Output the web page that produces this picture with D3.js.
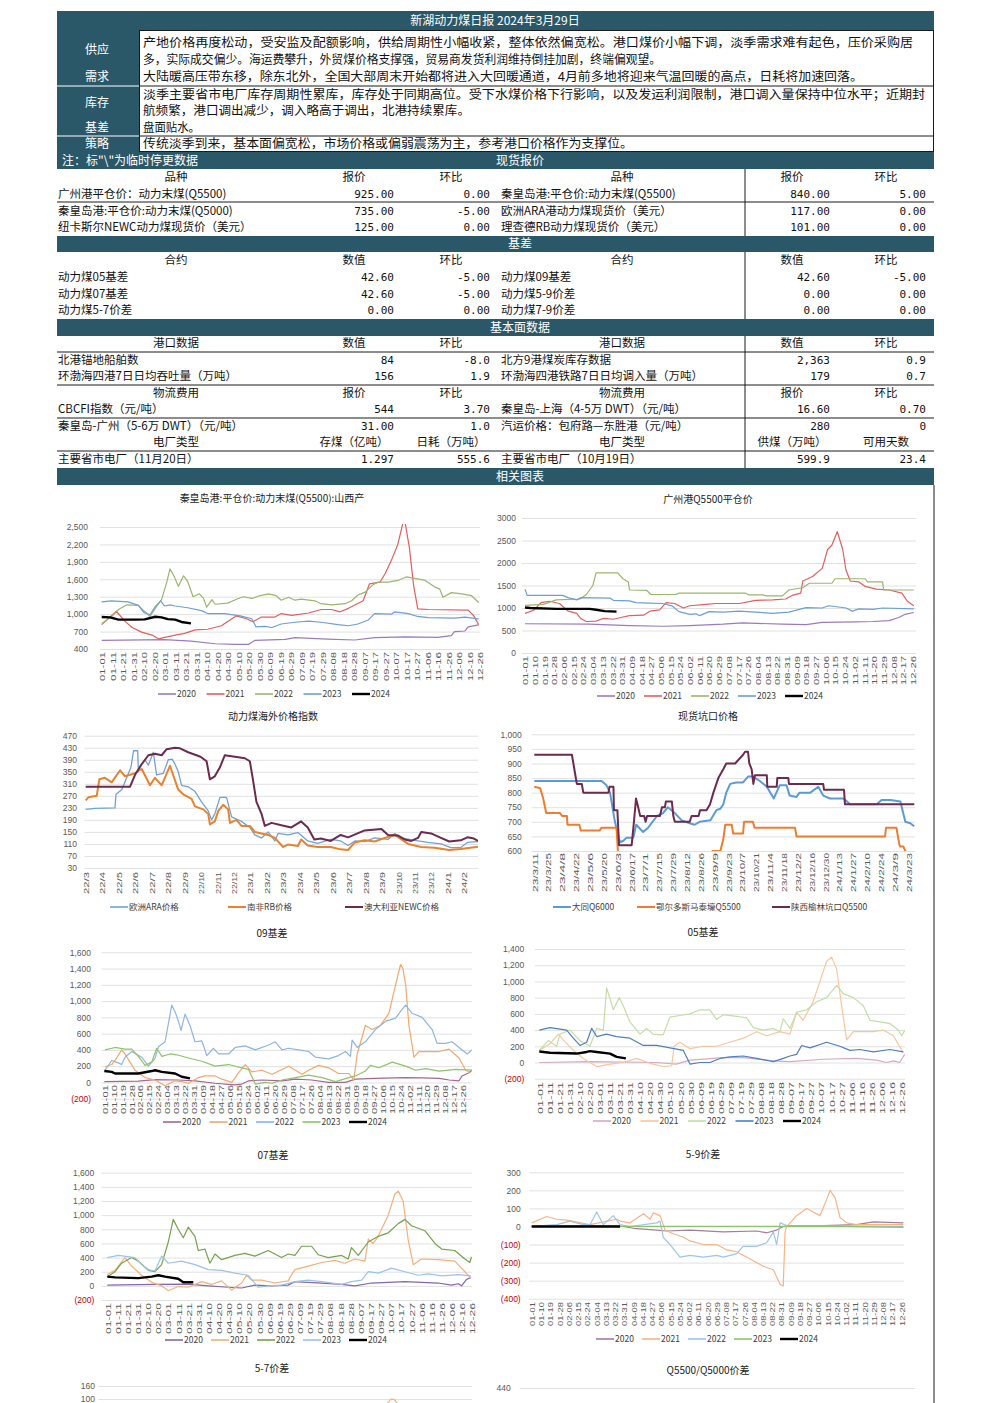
<!DOCTYPE html>
<html>
<head>
<meta charset="utf-8">
<script src="https://cdn.jsdelivr.net/npm/d3@7"></script>
<style>
  body { margin: 0; background: #fff; overflow: hidden; }
  svg { display: block; font-family: "Noto Sans CJK SC", "Noto Sans", sans-serif; }
</style>
</head>
<body>
<script>
// ---------------- report text ----------------
var reportTitle = "新湖动力煤日报 2024年3月29日";
var sectionNames = ["供应", "需求", "库存", "基差", "策略"];
var commentary = [
  "产地价格再度松动，受安监及配额影响，供给周期性小幅收紧，整体依然偏宽松。港口煤价小幅下调，淡季需求难有起色，压价采购居",
  "多，实际成交偏少。海运费攀升，外贸煤价格支撑强，贸易商发货利润维持倒挂加剧，终端偏观望。",
  "大陆暖高压带东移，除东北外，全国大部周末开始都将进入大回暖通道，4月前多地将迎来气温回暖的高点，日耗将加速回落。",
  "淡季主要省市电厂库存周期性累库，库存处于同期高位。受下水煤价格下行影响，以及发运利润限制，港口调入量保持中位水平；近期封",
  "航频繁，港口调出减少，调入略高于调出，北港持续累库。",
  "盘面贴水。",
  "传统淡季到来，基本面偏宽松，市场价格或偏弱震荡为主，参考港口价格作为支撑位。"
];
var noteText = "注：标\"\\\"为临时停更数据";

// ---------------- tables ----------------
var spotHeader = ["品种", "报价", "环比", "品种", "报价", "环比"];
var spotRows = [
  ["广州港平仓价：动力末煤(Q5500)", "925.00", "0.00", "秦皇岛港:平仓价:动力末煤(Q5500)", "840.00", "5.00"],
  ["秦皇岛港:平仓价:动力末煤(Q5000)", "735.00", "-5.00", "欧洲ARA港动力煤现货价（美元）", "117.00", "0.00"],
  ["纽卡斯尔NEWC动力煤现货价（美元）", "125.00", "0.00", "理查德RB动力煤现货价（美元）", "101.00", "0.00"]
];
var basisHeader = ["合约", "数值", "环比", "合约", "数值", "环比"];
var basisRows = [
  ["动力煤05基差", "42.60", "-5.00", "动力煤09基差", "42.60", "-5.00"],
  ["动力煤07基差", "42.60", "-5.00", "动力煤5-9价差", "0.00", "0.00"],
  ["动力煤5-7价差", "0.00", "0.00", "动力煤7-9价差", "0.00", "0.00"]
];
var portHeader = ["港口数据", "数值", "环比", "港口数据", "数值", "环比"];
var portRows = [
  ["北港锚地船舶数", "84", "-8.0", "北方9港煤炭库存数据", "2,363", "0.9"],
  ["环渤海四港7日日均吞吐量（万吨）", "156", "1.9", "环渤海四港铁路7日日均调入量（万吨）", "179", "0.7"]
];
var freightHeader = ["物流费用", "报价", "环比", "物流费用", "报价", "环比"];
var freightRows = [
  ["CBCFI指数（元/吨）", "544", "3.70", "秦皇岛-上海（4-5万 DWT）（元/吨）", "16.60", "0.70"],
  ["秦皇岛-广州（5-6万 DWT）（元/吨）", "31.00", "1.0", "汽运价格：包府路—东胜港（元/吨）", "280", "0"]
];
var plantHeader = ["电厂类型", "存煤（亿吨）", "日耗（万吨）", "电厂类型", "供煤（万吨）", "可用天数"];
var plantRows = [
  ["主要省市电厂（11月20日）", "1.297", "555.6", "主要省市电厂（10月19日）", "599.9", "23.4"]
];

// ---------------- chart tick labels ----------------
var years = ["2020", "2021", "2022", "2023", "2024"];
var ticks10 = ["01-01","01-11","01-21","01-31","02-10","02-20","03-01","03-11","03-21","03-31","04-10","04-20","04-30","05-10","05-20","05-30","06-09","06-19","06-29","07-09","07-19","07-29","08-08","08-18","08-28","09-07","09-17","09-27","10-07","10-17","10-27","11-06","11-16","11-26","12-06","12-16","12-26"];
var ticks9 = ["01-01","01-10","01-19","01-28","02-06","02-15","02-24","03-04","03-13","03-22","03-31","04-09","04-18","04-27","05-06","05-15","05-24","06-02","06-11","06-20","06-29","07-08","07-17","07-26","08-04","08-13","08-22","08-31","09-09","09-18","09-27","10-06","10-15","10-24","11-02","11-11","11-20","11-29","12-08","12-17","12-26"];
var monthTicks = ["22/3","22/4","22/5","22/6","22/7","22/8","22/9","22/10","22/11","22/12","23/1","23/2","23/3","23/4","23/5","23/6","23/7","23/8","23/9","23/10","23/11","23/12","24/1","24/2"];
var pitTicks = ["23/3/11","23/3/25","23/4/8","23/4/22","23/5/6","23/5/20","23/6/3","23/6/17","23/7/1","23/7/15","23/7/29","23/8/12","23/8/26","23/9/9","23/9/23","23/10/7","23/10/21","23/11/4","23/11/18","23/12/2","23/12/16","23/12/30","24/1/13","24/1/27","24/2/10","24/2/24","24/3/9","24/3/23"];
var overseasNames = ["欧洲ARA价格", "南非RB价格", "澳大利亚NEWC价格"];
var pitNames = ["大同Q6000", "鄂尔多斯马泰壕Q5500", "陕西榆林坑口Q5500"];

// ---------------- series: [day of year, value] ----------------
// 秦皇岛港:平仓价:动力末煤(Q5500):山西产
var qhd2020 = [[0,550],[60,560],[85,535],[108,490],[127,478],[140,480],[146,550],[175,565],[184,595],[215,570],[241,555],[260,595],[289,610],[320,600],[333,630],[336,700],[346,710],[349,780],[359,815]];
var qhd2021 = [[0,820],[14,1050],[22,880],[29,770],[38,690],[48,640],[54,575],[60,600],[70,640],[79,670],[89,730],[101,740],[114,800],[128,970],[138,920],[144,870],[152,950],[165,950],[171,1010],[181,980],[197,1020],[209,1080],[219,1080],[227,1040],[235,1100],[249,1230],[255,1520],[265,1550],[270,1700],[276,1930],[282,2200],[287,2580],[289,2570],[293,2150],[297,1500],[301,1090],[311,1080],[349,1070],[354,980],[359,820]];
var qhd2022 = [[0,840],[9,950],[16,1080],[24,1160],[35,1150],[40,1060],[46,960],[51,1100],[57,1250],[62,1550],[65,1780],[69,1650],[73,1480],[78,1660],[82,1560],[87,1300],[93,1350],[97,1270],[100,1120],[105,1250],[108,1170],[120,1190],[130,1270],[135,1300],[143,1270],[151,1320],[159,1350],[166,1320],[171,1240],[178,1290],[184,1240],[190,1260],[203,1230],[209,1180],[219,1160],[232,1180],[238,1230],[244,1330],[251,1380],[258,1500],[263,1550],[273,1550],[282,1580],[290,1640],[297,1620],[308,1580],[317,1470],[322,1430],[325,1290],[333,1370],[343,1350],[352,1320],[359,1200]];
var qhd2023 = [[0,1210],[9,1230],[25,1210],[35,1150],[40,1030],[46,990],[51,1130],[56,1230],[60,1140],[65,1160],[70,1140],[82,1110],[95,1060],[101,1010],[117,1010],[132,970],[143,920],[147,780],[155,790],[162,770],[171,830],[184,860],[197,880],[209,860],[225,820],[235,800],[244,830],[254,900],[260,1010],[276,1000],[279,1040],[292,1010],[301,960],[311,940],[336,930],[346,950],[359,920]];
var qhd2024 = [[0,950],[8,945],[16,905],[32,905],[41,910],[51,955],[57,945],[63,915],[70,905],[76,865],[85,840]];

// 广州港Q5500平仓价
var gz2020 = [[0,650],[60,640],[97,610],[128,595],[153,610],[184,640],[202,670],[239,640],[261,630],[276,680],[307,690],[323,700],[338,720],[347,790],[353,860],[361,900]];
var gz2021 = [[0,880],[8,950],[15,1120],[23,1150],[32,1100],[40,930],[48,880],[52,760],[57,700],[66,710],[73,770],[82,750],[91,800],[97,830],[110,840],[116,930],[125,960],[131,1120],[139,1100],[147,1000],[153,1050],[168,1080],[177,1100],[199,1100],[214,1170],[230,1180],[242,1200],[248,1280],[256,1330],[258,1600],[267,1700],[276,1880],[281,2300],[285,2400],[290,2700],[295,2300],[298,1850],[302,1600],[310,1580],[316,1480],[326,1420],[338,1400],[350,1330],[355,1150],[361,1050]];
var gz2022 = [[0,1060],[17,1080],[29,1180],[51,1200],[57,1300],[63,1500],[66,1780],[86,1780],[91,1650],[96,1580],[97,1400],[113,1390],[117,1300],[140,1300],[143,1330],[205,1330],[208,1290],[221,1290],[224,1270],[239,1270],[245,1400],[258,1450],[264,1550],[285,1550],[288,1650],[316,1650],[318,1580],[332,1580],[333,1400],[361,1400]];
var gz2023 = [[0,1420],[2,1280],[35,1280],[40,1230],[48,1180],[52,1230],[79,1220],[82,1170],[97,1160],[103,1120],[116,1110],[128,1100],[137,1040],[143,920],[153,860],[159,870],[162,830],[171,920],[184,910],[199,930],[214,910],[230,880],[245,910],[261,1010],[276,1000],[282,1050],[298,1000],[304,930],[310,980],[323,970],[332,1000],[361,980]];
var gz2024 = [[0,1010],[5,1000],[29,980],[60,980],[66,960],[74,930],[85,920]];

// 动力煤海外价格指数: [month index from 22/3, value]
var araPrice = [[0,225],[0.57,228],[1.78,230],[1.84,275],[2.19,290],[2.49,330],[2.75,365],[2.91,420],[3.16,420],[3.2,360],[3.6,390],[3.81,372],[4.11,415],[4.31,340],[4.72,345],[5.02,390],[5.26,392],[5.43,375],[5.63,350],[5.83,305],[6.23,300],[6.64,285],[7.04,250],[7.45,220],[7.65,190],[7.85,210],[8.16,265],[8.56,265],[8.87,200],[9.47,185],[9.98,165],[10.28,140],[10.69,130],[11.09,150],[11.5,120],[11.7,145],[12.3,140],[12.9,148],[13.5,120],[14.1,112],[14.9,125],[15.5,120],[15.95,105],[16.36,120],[16.96,118],[17.57,130],[18.38,125],[18.79,145],[19.19,130],[20,122],[20.8,115],[21.6,110],[22.2,98],[22.8,98],[23.2,115],[23.85,118]];
var rbPrice = [[0,255],[0.16,265],[0.67,270],[0.83,325],[1.17,330],[1.58,315],[2.09,355],[2.39,335],[3.0,345],[3.4,360],[3.91,305],[4.21,330],[4.62,305],[5.12,370],[5.63,290],[5.93,275],[6.44,260],[6.64,235],[7.15,225],[7.45,210],[7.55,175],[7.85,185],[8.06,220],[8.36,240],[8.66,225],[8.77,180],[9.17,190],[9.47,170],[9.98,170],[10.28,150],[11.09,140],[11.5,130],[12.0,100],[12.3,108],[12.9,103],[13.1,125],[13.5,105],[14.1,100],[14.9,100],[15.5,92],[15.95,90],[16.36,115],[16.96,122],[17.57,118],[18.18,130],[18.79,140],[19.6,110],[20.4,100],[21.2,97],[22.1,90],[22.8,93],[23.85,101]];
var newcPrice = [[0,300],[2.69,300],[3.0,340],[3.4,375],[3.81,405],[4.21,410],[4.62,405],[4.92,425],[5.43,430],[5.73,428],[6.23,415],[6.98,400],[7.35,385],[7.55,325],[7.85,335],[8.16,365],[8.46,405],[9.07,400],[9.68,395],[9.98,385],[10.18,320],[10.38,250],[10.69,210],[10.89,170],[11.3,180],[11.9,172],[12.5,165],[13.1,185],[13.5,165],[13.9,125],[14.3,128],[14.9,120],[15.5,140],[15.95,132],[16.96,155],[17.98,160],[18.38,140],[18.99,138],[19.39,125],[19.8,120],[20.2,130],[20.4,150],[21.0,145],[21.6,130],[22.1,118],[22.8,122],[23.2,132],[23.6,128],[23.85,120]];

// 现货坑口价格: [days since 23/3/11, value]
var datongQ6000 = [[0,840],[68,840],[73,825],[76.5,800],[81.5,700],[86.6,630],[90,635],[93,645],[100,645],[103,690],[110,665],[115,680],[124,720],[130,730],[135,750],[142,730],[149,705],[157,695],[162,690],[167,700],[178,705],[184,740],[188,745],[191,760],[194,800],[198,830],[204,835],[211,835],[216,855],[221,855],[228,840],[235,820],[242,780],[248,825],[255,825],[258,790],[265,785],[268,800],[279,800],[287,820],[292,790],[299,780],[312,780],[316,770],[319,760],[346,760],[351,775],[360,775],[370,770],[375,700],[380,695],[384,685]];
var ordosQ5500 = [[0,820],[6,815],[9,780],[12,730],[26,730],[28,720],[33,720],[33.5,690],[45.5,690],[47,670],[66,670],[68,680],[83,680],[84.5,600],[85,560],[177,560],[180,600],[188,600],[191,640],[193,690],[199.5,690],[201,660],[211,660],[212,700],[221,700],[222.5,680],[263.5,680],[265,650],[354.5,650],[355.5,680],[366,680],[368,640],[369.5,615],[373,615],[375,600],[376.5,560]];
var yulinQ5500 = [[0,930],[38,930],[41,870],[43,830],[48,830],[49.5,800],[75,800],[76,820],[80,820],[80.5,740],[84,740],[85.6,620],[98.4,620],[100.7,700],[102.8,780],[105,750],[107,720],[111,720],[112.5,700],[114,720],[127,720],[129,750],[132,750],[133,770],[139,770],[140.5,720],[142,700],[157,700],[159,720],[166,720],[167.5,740],[174,740],[177.6,760],[181,800],[186,850],[191,880],[194,900],[203,900],[211,930],[213,940],[216,940],[217.3,900],[219.7,880],[221.4,830],[223,860],[235,860],[235.5,820],[245,820],[245.6,850],[256.7,850],[257.4,830],[292,830],[292.8,810],[313,810],[314,760],[384,760]];

// 09基差
var b09_2020 = [[0,10],[34,15],[51,35],[74,30],[91,20],[111,-10],[131,-30],[138,-20],[145,20],[158,30],[178,20],[192,40],[208,30],[225,0],[242,0],[252,40],[272,50],[302,60],[319,55],[336,50],[346,30],[356,20],[359,80],[366,120],[369,150]];
var b09_2021 = [[0.7,190],[7.4,220],[12.4,300],[17.4,400],[20.8,350],[25.8,250],[30.8,150],[40.9,60],[51,30],[61,-40],[71,20],[77.7,10],[84.5,-10],[94.5,60],[101,80],[111.3,80],[118,40],[128,0],[134.8,120],[141.5,220],[148,130],[158,150],[168.3,100],[178.3,160],[185,200],[191.8,150],[198.5,100],[205,150],[215,210],[225,180],[235,110],[245.4,110],[250.4,30],[253.8,350],[262,700],[268.9,650],[277,700],[285.6,850],[292.3,1200],[297.3,1450],[299.7,1400],[302.4,1200],[305.7,700],[310.8,310],[315.8,380],[335.9,380],[346,410],[356,300],[362.7,150],[367.7,120]];
var b09_2022 = [[0.7,150],[7.4,270],[14,240],[17.4,220],[20.8,310],[27.5,380],[37.5,310],[44.3,200],[51,300],[54.3,440],[61,500],[67.7,950],[71,870],[74.4,750],[77,640],[81,840],[86,700],[91,500],[97.9,510],[102.9,330],[109.6,420],[114.6,350],[124.7,350],[131.4,430],[141.5,450],[151.5,400],[165,460],[171.6,500],[178.3,400],[185,420],[195,400],[205,380],[211.9,310],[225,290],[235,330],[242,380],[247,320],[248.7,520],[253.8,430],[262,500],[272,650],[282,750],[292.3,790],[299,900],[302.4,950],[309,850],[319,800],[329,650],[334,480],[342.6,480],[349,500],[356,430],[364.3,350],[368.7,400]];
var b09_2023 = [[0.7,400],[10.7,430],[20.8,410],[27.5,410],[34.2,320],[40.9,210],[47.6,250],[52.6,420],[57.7,320],[66,350],[72.7,340],[84.5,300],[97.9,260],[111.3,200],[124.7,220],[138,180],[144.8,160],[151.5,-20],[161.5,0],[168.3,-10],[178.3,30],[191.8,60],[205,90],[218.6,60],[232,10],[245.4,60],[252,80],[262,140],[267,210],[275.6,180],[289,250],[302.4,200],[312.4,150],[322.5,170],[335.9,140],[352.7,160],[369.4,150]];
var b09_2024 = [[0,140],[7.4,130],[10.7,110],[34.2,110],[47.6,140],[51,150],[57.7,130],[71,110],[77.7,70],[86,50]];

// 05基差
var b05_2020 = [[0,0],[50,10],[116,0],[136,-20],[150,30],[183,60],[203,60],[232,20],[249,10],[282,40],[315,50],[335,30],[345,0],[352,20],[358,0],[363,100]];
var b05_2021 = [[0,150],[10.6,230],[18.9,350],[23.8,280],[33.8,150],[43.7,50],[57,-50],[70.2,-20],[83.4,0],[96.7,50],[110,-10],[123,-50],[131.5,-40],[133.8,200],[139.7,250],[149.7,170],[163,200],[176,200],[189.4,250],[202.6,300],[216,380],[225.8,330],[239,380],[249,350],[255.6,620],[262,520],[272,750],[278.8,1000],[285.4,1250],[290.4,1300],[295.4,1150],[300.3,700],[305.3,280],[312,380],[331.8,380],[341.7,400],[351.7,330],[361.6,120]];
var b05_2022 = [[0,150],[9,270],[17.2,200],[20.5,350],[30.5,400],[40.4,270],[50.3,200],[57,420],[63.6,400],[66.9,920],[73.5,650],[79.5,800],[83.4,700],[90,500],[100,350],[106.6,420],[113,350],[123,340],[129.8,560],[139.7,580],[149.7,600],[159.6,650],[169.5,650],[176,530],[182.8,590],[196,570],[206,550],[212.6,430],[222.5,400],[232.5,420],[239,380],[242.4,540],[249,420],[255.6,620],[265.6,650],[275.5,750],[285.4,800],[295.4,950],[302,850],[312,800],[321.9,700],[328.5,520],[338.4,500],[348.3,480],[356.6,400],[360,330],[363.2,400]];
var b05_2023 = [[0,400],[10.6,430],[27.2,400],[33.8,300],[40.4,210],[47,250],[52,420],[57,320],[66.9,350],[76.8,320],[90,300],[103.3,210],[116.6,210],[129.8,180],[143,150],[149.7,-20],[159.6,0],[169.5,0],[179.5,50],[189.4,70],[202.6,80],[216,50],[232.5,10],[242.4,50],[249,80],[255.6,100],[260.6,210],[268.9,180],[285.4,250],[298.6,200],[308.6,150],[318.5,160],[331.8,130],[348.3,160],[361.6,130]];
var b05_2024 = [[0,135],[10.6,120],[37.1,110],[47,130],[50.3,140],[57,130],[70.2,110],[76.8,70],[86,50]];

// 07基差
var b07_2020 = [[0,10],[47,20],[79.9,25],[99.7,0],[119.4,-20],[132.6,-30],[145.7,10],[162,0],[178.6,10],[185.2,60],[211.5,40],[231.3,20],[244.4,0],[260.9,40],[293.8,60],[326.6,40],[339.8,10],[346.4,30],[349.7,0],[354.6,90],[358.9,120]];
var b07_2021 = [[0,160],[7.6,220],[17.4,400],[24,280],[33.9,150],[43.8,50],[53.6,0],[60.2,-70],[70,-10],[79.9,-20],[93,60],[103,20],[112.8,70],[122.7,-60],[132.6,40],[137.5,150],[142.4,80],[152.3,80],[165.5,40],[178.6,70],[180.3,120],[185.2,230],[198.4,280],[211.5,330],[224.7,360],[234.5,320],[244.4,380],[254.3,350],[257.6,660],[262.5,600],[267.4,700],[277.3,1000],[283.9,1300],[287.2,1340],[292,1200],[297,650],[302,300],[310,380],[326.6,370],[343,350],[353,200],[358.9,110]];
var b07_2022 = [[0,130],[7.6,200],[14.1,320],[24,400],[30.6,350],[40.5,220],[47,200],[53.6,300],[60.2,620],[65.1,940],[70,800],[75,680],[79.9,830],[86.5,700],[89.8,500],[96.4,520],[101.3,320],[106.3,450],[112.8,370],[126,430],[135.9,460],[145.7,420],[158.9,500],[172,400],[178.6,450],[185.2,430],[191.8,560],[201.6,560],[208.2,440],[218,400],[231.3,430],[237.8,380],[241,540],[247.7,430],[257.6,620],[267.4,700],[277.3,750],[287.2,880],[293.8,940],[300.3,850],[313.5,780],[323.4,600],[330,520],[343,500],[353,380],[357.9,330],[359.5,410]];
var b07_2023 = [[0,400],[10.9,430],[27.3,400],[33.9,300],[40.5,230],[47,210],[53.6,420],[60.2,320],[73.4,350],[86.5,300],[99.7,230],[112.8,220],[126,180],[139,150],[149,-20],[158.9,0],[172,10],[185.2,60],[198.4,80],[211.5,60],[231.3,20],[241,60],[251,80],[257.6,200],[267.4,180],[280.6,250],[293.8,200],[306.9,150],[316.8,170],[330,140],[346.4,160],[358.9,140]];
var b07_2024 = [[0,130],[7.6,120],[30.6,110],[43.8,130],[50.3,150],[56.9,130],[70,100],[75,50],[84.9,50]];

// 5-9价差
var s59_2020 = [[0,0],[56.8,5],[89.3,0],[99,-10],[121.8,-20],[131.5,-25],[154.2,-20],[186.7,-30],[219.2,-25],[228.9,-35],[238.6,-20],[245,0],[251.6,5],[284,5],[316.6,10],[332.8,25],[362,20]];
var s59_2021 = [[0,20],[14.6,55],[24.4,40],[34,35],[56.8,10],[82.8,40],[86,30],[95.8,20],[108.8,70],[115.3,40],[118.5,75],[125,60],[129.9,-20],[138,-40],[147.7,-60],[154.2,-80],[167.2,-100],[180.2,-100],[190,-130],[199.7,-140],[212.7,-180],[225.6,-220],[235.4,-240],[241.9,-320],[245,-330],[246.8,-30],[248.4,0],[258,60],[267.9,100],[271,90],[280.8,60],[287.3,150],[290.6,200],[295.5,160],[300.3,50],[306.8,20],[316.6,10],[362,10]];
var s59_2022 = [[0,0],[24.4,10],[37.3,30],[50.3,10],[56.8,10],[63.3,80],[69.8,10],[79.5,60],[86,10],[95.8,0],[121.8,20],[125,30],[128.2,-60],[134.7,-100],[144.5,-170],[154.2,-160],[167.2,-170],[180.2,-160],[186.7,-170],[199.7,-150],[206,-110],[219.2,-110],[228.9,-90],[235.4,-30],[238.6,-100],[241.9,20],[248.4,5],[362,0]];
var s59_2023 = [[0,0],[100,0],[200,0],[300,0],[362,-5]];
var s59_2024 = [[0,0],[86,0]];

// 5-7价差 (only the top of the chart is on the page)
var s57_2021 = [[270,40],[280,100],[283,98],[290,60]];

// ---------------- styles ----------------
var teal = "#2b5869";
var yearColorsA = ["#9a7bbf", "#e0605e", "#9ab66e", "#6d9fd3", "#000000"];
var yearColors09 = ["#a4668e", "#f2a86e", "#8fb5e0", "#8dc36a", "#000000"];
var yearColors05 = ["#d7a9c4", "#f7c6a0", "#c3dea6", "#4f7fbf", "#000000"];
var yearColors07 = ["#8566a8", "#f3b07a", "#76a24d", "#9cc2e8", "#000000"];
var yearColors59 = ["#a57b9f", "#f5b488", "#9ec4e8", "#8cc46a", "#000000"];
var yearWidths = [1.2, 1.2, 1.2, 1.2, 2.4];
var pageBottom = 1400;

var svg = d3.select("body").append("svg")
  .attr("width", 992)
  .attr("height", 1403);

// ---------------- helpers ----------------
function tealBar(y0, y1) {
  svg.append("rect")
    .attr("x", 57).attr("y", y0)
    .attr("width", 877).attr("height", y1 - y0)
    .attr("fill", teal);
}

function hLine(y, x0, x1, color) {
  svg.append("line")
    .attr("x1", x0 || 57).attr("x2", x1 || 934)
    .attr("y1", y).attr("y2", y)
    .attr("stroke", color || "#1a1a1a").attr("stroke-width", 1);
}

function vLine(x, y0, y1) {
  svg.append("line")
    .attr("x1", x).attr("x2", x)
    .attr("y1", y0).attr("y2", y1)
    .attr("stroke", "#1a1a1a").attr("stroke-width", 1);
}

function whiteText(x, y, txt, anchor) {
  svg.append("text")
    .attr("x", x).attr("y", y).attr("dy", "0.35em")
    .attr("text-anchor", anchor || "middle")
    .attr("font-size", 12).attr("fill", "#fff")
    .text(txt);
}

// table columns: name | value | change | name | value | change
var colAnchor = [["start", 58], ["end", 394], ["end", 490], ["start", 501], ["end", 830], ["end", 926]];
var headCenter = [176, 354, 451, 622, 792, 886];
var numFont = "\"DejaVu Sans Mono\", monospace";

function tableRow(cells, y, isHeader) {
  cells.forEach(function(c, i) {
    var t = svg.append("text")
      .attr("y", y).attr("dy", "0.35em")
      .attr("font-size", 11.5)
      .attr("fill", "#111")
      .text(c);
    if (isHeader) {
      t.attr("x", headCenter[i]).attr("text-anchor", "middle");
    } else {
      t.attr("x", colAnchor[i][1]).attr("text-anchor", colAnchor[i][0]);
      if (i == 1 || i == 2 || i == 4 || i == 5) t.attr("font-family", numFont).attr("font-size", 11);
    }
  });
}

// ---------------- report header and commentary ----------------
tealBar(11, 30);
whiteText(495, 20.5, reportTitle);

// label column
svg.append("rect").attr("x", 57).attr("y", 30).attr("width", 82).attr("height", 122).attr("fill", teal);
var labelY = [50, 77, 103, 128, 144];
sectionNames.forEach(function(s, i) { whiteText(97, labelY[i], s); });
[86, 136].forEach(function(y) { hLine(y, 57, 139, "#ffffff"); });

// commentary box borders
svg.append("rect").attr("x", 139.5).attr("y", 30.5).attr("width", 794).attr("height", 121)
  .attr("fill", "none").attr("stroke", "#1a1a1a");
hLine(86, 139, 934);
hLine(136, 139, 934);

var commentY = [43, 60, 77, 95, 111, 128, 144];
var commentW = [770, 518, 720, 782, 327, 57, 490];
commentary.forEach(function(line, i) {
  svg.append("text")
    .attr("x", 143).attr("y", commentY[i]).attr("dy", "0.35em")
    .attr("font-size", 12).attr("fill", "#111")
    .attr("textLength", commentW[i]).attr("lengthAdjust", "spacingAndGlyphs")
    .text(line);
});

// ---------------- 现货报价 ----------------
tealBar(152, 169);
whiteText(62, 160.5, noteText, "start");
whiteText(520, 160.5, "现货报价");
tableRow(spotHeader, 177, true);
spotRows.forEach(function(r, i) { tableRow(r, [194, 211, 227][i], false); });
hLine(202);
vLine(745, 169, 236);

// ---------------- 基差 ----------------
tealBar(236, 252);
whiteText(520, 244, "基差");
tableRow(basisHeader, 260, true);
basisRows.forEach(function(r, i) { tableRow(r, [277, 294, 310][i], false); });
vLine(745, 252, 319);

// ---------------- 基本面数据 ----------------
tealBar(319, 336);
whiteText(520, 327.5, "基本面数据");
tableRow(portHeader, 343, true);
portRows.forEach(function(r, i) { tableRow(r, [360, 376][i], false); });
tableRow(freightHeader, 393, true);
freightRows.forEach(function(r, i) { tableRow(r, [409, 426][i], false); });
tableRow(plantHeader, 442, true);
plantRows.forEach(function(r) { tableRow(r, 459, false); });
[352, 385, 418, 451].forEach(function(y) { hLine(y); });
vLine(745, 336, 468);

// ---------------- 相关图表 ----------------
tealBar(468, 485);
whiteText(520, 476.5, "相关图表");
vLine(934, 485, 1403);

// ---------------- chart drawing ----------------
function negFormat(sep) {
  var f = d3.format(sep ? "," : "d");
  return function(d) { return d < 0 ? "(" + f(-d) + ")" : f(d); };
}

var chartCount = 0;
function drawChart(c) {
  chartCount += 1;
  var x = d3.scaleLinear().domain(c.xDomain).range(c.xRange);
  var y = d3.scaleLinear().domain(c.yDomain).range(c.yRange);
  var g = svg.append("g");

  // title
  g.append("text")
    .attr("x", c.titleX).attr("y", c.titleY).attr("dy", "0.35em")
    .attr("text-anchor", "middle")
    .attr("font-size", 10).attr("fill", "#222")
    .text(c.title);

  // gridlines and y labels (only the ones that fall on the page)
  var yTicks = d3.range(c.yDomain[0], c.yDomain[1] + 0.001, c.yStep)
    .filter(function(t) { return y(t) <= pageBottom; });
  var yAxis = d3.axisLeft(y)
    .tickValues(yTicks)
    .tickSize(-(c.gridX[1] - c.gridX[0]))
    .tickPadding(c.gridX[0] - c.labelX)
    .tickFormat(c.yFormat);
  var ya = g.append("g")
    .attr("transform", "translate(" + c.gridX[0] + ",0)")
    .call(yAxis);
  ya.select(".domain").remove();
  ya.selectAll("line").attr("stroke", "#d9d9d9").attr("stroke-width", 0.8);
  ya.selectAll("text")
    .attr("font-family", "\"Liberation Sans\", Arial, sans-serif")
    .attr("font-size", 8.5)
    .attr("fill", function(d) { return d < 0 ? "#c00000" : "#595959"; });

  // x labels, rotated
  if (c.xTicks) {
    var xAxis = d3.axisBottom(x)
      .tickValues(c.xTicks.map(function(t, i) { return i * c.xStep; }))
      .tickSize(0)
      .tickFormat(function(d, i) { return c.xTicks[i]; });
    var xa = g.append("g")
      .attr("transform", "translate(0," + c.labelTop + ")")
      .call(xAxis);
    xa.select(".domain").remove();
    xa.selectAll("text")
      .attr("x", 0).attr("y", 0).attr("dy", "0.35em")
      .attr("transform", "rotate(-90)")
      .attr("text-anchor", "end")
      .attr("font-family", "\"Liberation Sans\", Arial, sans-serif")
      .attr("font-size", 8)
      .attr("fill", "#595959")
      .attr("textLength", c.labelLen)
      .attr("lengthAdjust", "spacingAndGlyphs");
  }

  // clipped series
  var clipId = "clip" + chartCount;
  svg.append("clipPath").attr("id", clipId)
    .append("rect")
    .attr("x", c.gridX[0]).attr("y", c.yRange[1] - 3)
    .attr("width", c.gridX[1] - c.gridX[0])
    .attr("height", c.yRange[0] - c.yRange[1] + 3);

  var line = d3.line()
    .x(function(d) { return x(d[0]); })
    .y(function(d) { return y(d[1]); });

  var sg = g.append("g").attr("clip-path", "url(#" + clipId + ")");
  c.series.forEach(function(s) {
    sg.append("path")
      .datum(s.data)
      .attr("d", line)
      .attr("fill", "none")
      .attr("stroke", s.color)
      .attr("stroke-width", s.width)
      .attr("stroke-linejoin", "round");
  });

  // legend
  if (c.legendX) {
    c.series.forEach(function(s, i) {
      var lx = c.legendX[i];
      g.append("line")
        .attr("x1", lx).attr("x2", lx + 18)
        .attr("y1", c.legendY).attr("y2", c.legendY)
        .attr("stroke", s.color).attr("stroke-width", Math.max(s.width, 1.6));
      g.append("text")
        .attr("x", lx + 19).attr("y", c.legendY).attr("dy", "0.35em")
        .attr("font-size", 8.5).attr("fill", "#404040")
        .text(s.name);
    });
  }
}

function yearSeries(list, colors) {
  return list.map(function(d, i) {
    return { name: years[i], data: d, color: colors[i], width: yearWidths[i] };
  });
}

function evenLegend(x0, step) {
  return years.map(function(y, i) { return x0 + i * step; });
}

// 1. 秦皇岛港:平仓价:动力末煤(Q5500):山西产
drawChart({
  title: "秦皇岛港:平仓价:动力末煤(Q5500):山西产", titleX: 272, titleY: 498,
  xDomain: [0, 360], xRange: [101.7, 479.7],
  yDomain: [400, 2500], yRange: [649, 527], yStep: 300, yFormat: negFormat(true),
  gridX: [100, 480], labelX: 88,
  xTicks: ticks10, xStep: 10, labelTop: 652, labelLen: 29,
  series: yearSeries([qhd2020, qhd2021, qhd2022, qhd2023, qhd2024], yearColorsA),
  legendX: evenLegend(158, 48.5), legendY: 694
});

// 2. 广州港Q5500平仓价
drawChart({
  title: "广州港Q5500平仓价", titleX: 708, titleY: 499,
  xDomain: [0, 360], xRange: [525, 912.7],
  yDomain: [0, 3000], yRange: [653, 518], yStep: 500, yFormat: negFormat(false),
  gridX: [522, 916], labelX: 516,
  xTicks: ticks9, xStep: 9, labelTop: 656, labelLen: 29,
  series: yearSeries([gz2020, gz2021, gz2022, gz2023, gz2024], yearColorsA),
  legendX: evenLegend(597, 47), legendY: 696
});

// 3. 动力煤海外价格指数
drawChart({
  title: "动力煤海外价格指数", titleX: 273, titleY: 716,
  xDomain: [0, 23.85], xRange: [85.7, 478],
  yDomain: [30, 470], yRange: [868, 735.7], yStep: 40, yFormat: negFormat(false),
  gridX: [84.5, 478], labelX: 77,
  xTicks: monthTicks, xStep: 1, labelTop: 872, labelLen: 22,
  series: [
    { name: overseasNames[0], data: araPrice, color: "#72a2d4", width: 1.3 },
    { name: overseasNames[1], data: rbPrice, color: "#e8822e", width: 2 },
    { name: overseasNames[2], data: newcPrice, color: "#6b2b4e", width: 2 }
  ],
  legendX: [110, 228, 345], legendY: 907
});

// 4. 现货坑口价格
drawChart({
  title: "现货坑口价格", titleX: 708, titleY: 716,
  xDomain: [0, 378], xRange: [534.3, 908.3],
  yDomain: [600, 1000], yRange: [851, 734.3], yStep: 50, yFormat: negFormat(true),
  gridX: [531.7, 915], labelX: 521.7,
  xTicks: pitTicks, xStep: 14, labelTop: 853, labelLen: 39,
  series: [
    { name: pitNames[0], data: datongQ6000, color: "#5b9bd5", width: 2 },
    { name: pitNames[1], data: ordosQ5500, color: "#ed7d31", width: 2 },
    { name: pitNames[2], data: yulinQ5500, color: "#6b2b4e", width: 2 }
  ],
  legendX: [553, 637, 772], legendY: 907
});

// 5. 09基差
drawChart({
  title: "09基差", titleX: 272, titleY: 933,
  xDomain: [0, 369], xRange: [104.3, 472],
  yDomain: [-200, 1600], yRange: [1098.7, 952.3], yStep: 200, yFormat: negFormat(true),
  gridX: [101.7, 472], labelX: 91,
  xTicks: ticks9, xStep: 9, labelTop: 1085, labelLen: 29,
  series: yearSeries([b09_2020, b09_2021, b09_2022, b09_2023, b09_2024], yearColors09),
  legendX: evenLegend(163, 46.5), legendY: 1122
});

// 6. 05基差
drawChart({
  title: "05基差", titleX: 703, titleY: 932,
  xDomain: [0, 360], xRange: [539.3, 901.7],
  yDomain: [-200, 1400], yRange: [1078.7, 949], yStep: 200, yFormat: negFormat(true),
  gridX: [535, 905], labelX: 524.3,
  xTicks: ticks10, xStep: 10, labelTop: 1082, labelLen: 32,
  series: yearSeries([b05_2020, b05_2021, b05_2022, b05_2023, b05_2024], yearColors05),
  legendX: evenLegend(593, 47.5), legendY: 1121
});

// 7. 07基差
drawChart({
  title: "07基差", titleX: 273, titleY: 1155,
  xDomain: [0, 360], xRange: [107.3, 472],
  yDomain: [-200, 1600], yRange: [1300, 1172.7], yStep: 200, yFormat: negFormat(true),
  gridX: [101.7, 472], labelX: 94.3,
  xTicks: ticks10, xStep: 10, labelTop: 1303, labelLen: 31,
  series: yearSeries([b07_2020, b07_2021, b07_2022, b07_2023, b07_2024], yearColors07),
  legendX: evenLegend(165, 46), legendY: 1340
});

// 8. 5-9价差
drawChart({
  title: "5-9价差", titleX: 703, titleY: 1154,
  xDomain: [0, 360], xRange: [531.7, 901.3],
  yDomain: [-400, 300], yRange: [1298.7, 1172.3], yStep: 100, yFormat: negFormat(false),
  gridX: [529.3, 904], labelX: 520.7,
  xTicks: ticks9, xStep: 9, labelTop: 1302, labelLen: 24,
  series: yearSeries([s59_2020, s59_2021, s59_2022, s59_2023, s59_2024], yearColors59),
  legendX: evenLegend(596, 46), legendY: 1339
});

// 9. 5-7价差 (cut by the page bottom)
drawChart({
  title: "5-7价差", titleX: 272, titleY: 1368,
  xDomain: [0, 360], xRange: [107, 472],
  yDomain: [-200, 160], yRange: [1464, 1386], yStep: 60, yFormat: negFormat(false),
  gridX: [98.3, 472], labelX: 95,
  series: [{ name: "2021", data: s57_2021, color: "#f3b07a", width: 1.2 }]
});

// 10. Q5500/Q5000价差 (cut by the page bottom)
drawChart({
  title: "Q5500/Q5000价差", titleX: 708, titleY: 1370,
  xDomain: [0, 360], xRange: [525, 912],
  yDomain: [0, 440], yRange: [1575, 1388], yStep: 40, yFormat: negFormat(false),
  gridX: [520, 915], labelX: 510.7,
  series: []
});
</script>
</body>
</html>
